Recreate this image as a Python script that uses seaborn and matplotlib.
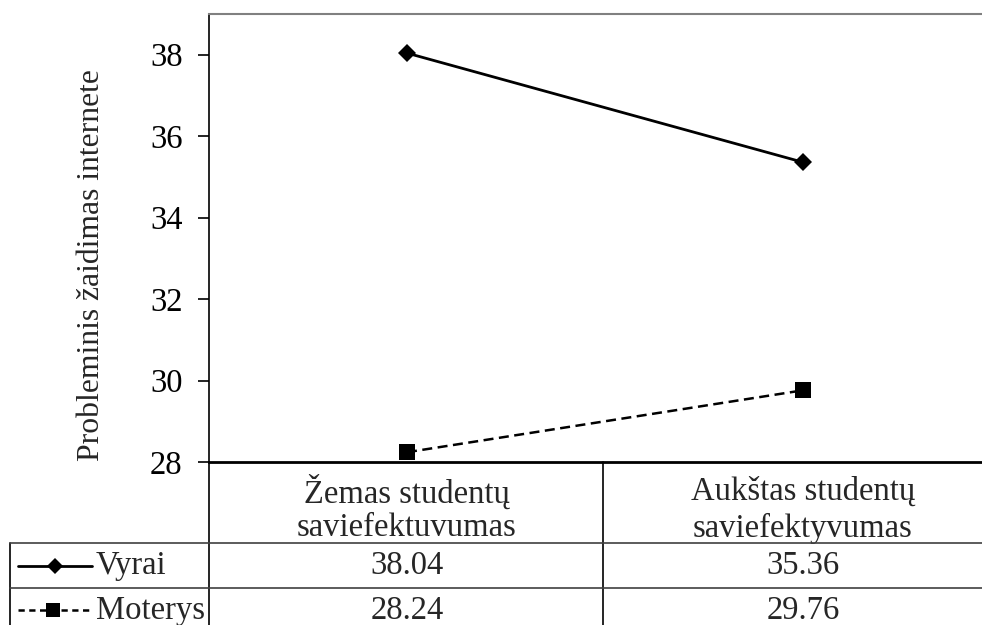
import matplotlib
matplotlib.use("Agg")
import matplotlib.pyplot as plt
from matplotlib.lines import Line2D
from matplotlib.transforms import blended_transform_factory
import seaborn as sns
import pandas as pd

# Data
categories = ["Žemas studentų\nsaviefektuvumas", "Aukštas studentų\nsaviefektyvumas"]
series_names = ["Vyrai", "Moterys"]
vyrai = [38.04, 35.36]
moterys = [28.24, 29.76]
y_ticks = [28, 30, 32, 34, 36, 38]
y_label = "Probleminis žaidimas internete"

sns.set_theme(style="white")
plt.rcParams["font.family"] = ["Liberation Serif", "DejaVu Serif"]
FS = 23.5

W, H = 982, 625
fig = plt.figure(figsize=(W / 100, H / 100), dpi=100)

def fx(px):
    return px / W

def fy(py):
    return 1 - py / H

# plot area: 209..1001 px horizontally, 14..462 px vertically
left, right, top, bottom = 209, 1001, 14, 462
ax = fig.add_axes([fx(left), fy(bottom), fx(right - left), (bottom - top) / H])

df = pd.DataFrame({
    "cat": categories * 2,
    "x": [0, 1, 0, 1],
    "val": vyrai + moterys,
    "grp": [series_names[0]] * 2 + [series_names[1]] * 2,
})

sns.lineplot(data=df[df.grp == "Vyrai"], x="x", y="val", ax=ax, color="black",
             lw=2.0, marker="D", markersize=9, markeredgewidth=0, legend=False)
sns.lineplot(data=df[df.grp == "Moterys"], x="x", y="val", ax=ax, color="black",
             lw=1.8, marker="s", markersize=11, markeredgewidth=0, legend=False,
             linestyle=(0, (4, 2.2)))

ax.set_xlim(-0.5, 1.5)
ax.set_ylim(28, 39)
ax.set_yticks(y_ticks)
ax.set_yticklabels([str(t) for t in y_ticks], fontsize=FS)
ax.set_xticks([])
ax.set_xlabel("")
ax.set_ylabel("")
ax.tick_params(axis="y", direction="out", length=8, width=1.2, pad=11, left=True, colors="black")
for s in ["left", "bottom"]:
    ax.spines[s].set_color("black")
ax.spines["left"].set_linewidth(1.2)
ax.spines["bottom"].set_linewidth(2.0)
ax.spines["top"].set_color("#808080")
ax.spines["top"].set_linewidth(1.5)
ax.spines["right"].set_visible(False)
ax.set_facecolor("white")

fig.text(fx(92), fy(265), y_label, rotation=90, ha="center", va="center", fontsize=22.8)

# data table under the axis
def hline(py, x0, x1, lw=1.2, color="black"):
    fig.add_artist(Line2D([fx(x0), fx(x1)], [fy(py), fy(py)], color=color, lw=lw,
                          transform=fig.transFigure))

def vline(px, y0, y1, lw=1.2, color="black"):
    fig.add_artist(Line2D([fx(px), fx(px)], [fy(y0), fy(y1)], color=color, lw=lw,
                          transform=fig.transFigure))

vline(left, bottom, H + 5)
vline(603, bottom, H + 5)
vline(10, 543, H + 5)
hline(543, 10, W + 5, color="#404040")
hline(588, 10, W + 5, color="#404040")

tr = blended_transform_factory(ax.transData, fig.transFigure)
for i, cat in enumerate(categories):
    l1, l2 = cat.split("\n")
    ax.text(i, fy(492), l1, transform=tr, ha="center", va="center", fontsize=FS)
    ax.text(i, fy(528), l2, transform=tr, ha="center", va="center", fontsize=FS)
    ax.text(i, fy(566), f"{vyrai[i]:.2f}", transform=tr, ha="center", va="center", fontsize=FS)
    ax.text(i, fy(611), f"{moterys[i]:.2f}", transform=tr, ha="center", va="center", fontsize=FS)

# legend keys inside the table rows
fig.add_artist(Line2D([fx(18), fx(92)], [fy(566)] * 2, color="black", lw=2.0,
                      transform=fig.transFigure))
fig.add_artist(Line2D([fx(55)], [fy(566)], color="black", marker="D", markersize=8,
                      markeredgewidth=0, transform=fig.transFigure))
fig.add_artist(Line2D([fx(18), fx(92)], [fy(610)] * 2, color="black", lw=1.8,
                      linestyle=(0, (2.5, 1.8)), transform=fig.transFigure))
fig.add_artist(Line2D([fx(53)], [fy(610)], color="black", marker="s", markersize=10,
                      markeredgewidth=0, transform=fig.transFigure))
fig.text(fx(96), fy(566), series_names[0], ha="left", va="center", fontsize=FS)
fig.text(fx(96), fy(611), series_names[1], ha="left", va="center", fontsize=FS)

fig.savefig("out.png", dpi=100, facecolor="white")
